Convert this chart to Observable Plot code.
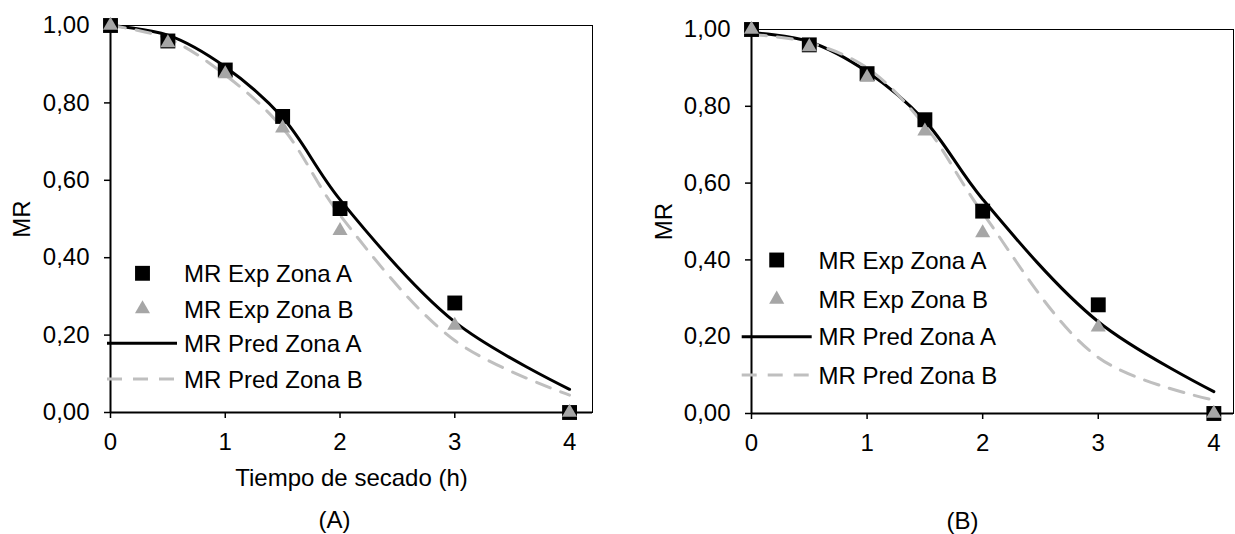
<!DOCTYPE html>
<html>
<head>
<meta charset="utf-8">
<script src="https://cdn.jsdelivr.net/npm/d3@7"></script>
<script src="https://cdn.jsdelivr.net/npm/@observablehq/plot@0.6"></script>
<style>
  html, body { margin: 0; padding: 0; background: #fff; }
  #wrap { position: relative; width: 1235px; height: 534px; overflow: hidden; background: #fff; }
  #wrap svg { position: absolute; top: 0; }
</style>
</head>
<body>
<div id="wrap"></div>
<script>
// ---- data ----
const tiempo = [0, 0.5, 1, 1.5, 2, 3, 4];
const expZonaA = [1.00, 0.96, 0.885, 0.765, 0.527, 0.283, 0.00];
const expZonaB = [1.00, 0.955, 0.875, 0.735, 0.47, 0.225, 0.00];
// panel (A) predictions
const predA_zonaA = [1.00, 0.975, 0.893, 0.762, 0.55, 0.234, 0.06];
const predA_zonaB = [1.00, 0.966, 0.872, 0.735, 0.51, 0.186, 0.045];
// panel (B) predictions
const predB_zonaA = [0.992, 0.968, 0.89, 0.762, 0.558, 0.239, 0.057];
const predB_zonaB = [0.987, 0.966, 0.90, 0.75, 0.522, 0.146, 0.035];

const xTicks = [0, 1, 2, 3, 4];
const yTicks = [0, 0.2, 0.4, 0.6, 0.8, 1.0];
const legendLabels = ["MR Exp Zona A", "MR Exp Zona B", "MR Pred Zona A", "MR Pred Zona B"];
const xLabel = "Tiempo de secado (h)";
const yLabel = "MR";

const FONT = "'Liberation Sans', Arial, Helvetica, sans-serif";
const FS = 24;
const GRAY_M = "#a6a6a6";
const GRAY_L = "#bfbfbf";
const fmt = d => d3.format(".2f")(d).replace(".", ",");

function rows(ys) { return tiempo.map((t, i) => ({t, v: ys[i]})); }

function panel(cfg) {
  const svg = Plot.plot({
    width: cfg.width,
    height: 534,
    marginLeft: cfg.ml,
    marginRight: cfg.mr,
    marginTop: cfg.mt,
    marginBottom: 534 - cfg.y0,
    style: {fontFamily: FONT, fontSize: FS + "px", color: "black", background: "white", overflow: "visible"},
    x: {domain: [0, cfg.xmax], axis: null},
    y: {domain: [0, 1], axis: null},
    marks: [
      Plot.frame({stroke: "black", strokeWidth: 1}),
      Plot.ruleX([0], {stroke: "black", strokeWidth: 2}),
      Plot.ruleY([0], {stroke: "black", strokeWidth: 2}),
      Plot.axisX({ticks: xTicks, tickSize: 6, tickPadding: 14, tickFormat: d => String(d), fontSize: FS, label: null, strokeWidth: 1.5}),
      Plot.axisY({ticks: yTicks, tickSize: 6, tickPadding: 15, tickFormat: fmt, fontSize: FS, label: null, strokeWidth: 1.5}),
      Plot.line(rows(cfg.predA), {x: "t", y: "v", stroke: "black", strokeWidth: 3, curve: "catmull-rom"}),
      Plot.line(rows(cfg.predB), {x: "t", y: "v", stroke: GRAY_L, strokeWidth: 3, strokeDasharray: "15,11", curve: "catmull-rom"}),
      Plot.dot(rows(expZonaA), {x: "t", y: "v", symbol: "square", r: 8.4, fill: "black", stroke: "none"}),
      Plot.dot(rows(expZonaB), {x: "t", y: "v", symbol: "triangle", r: 5.6, fill: GRAY_M, stroke: "none"}),
      Plot.text([yLabel], {frameAnchor: "left", dx: cfg.yLabDx, rotate: -90, fontSize: FS, fill: "black", lineAnchor: "middle", textAnchor: "middle"}),
      cfg.showXLabel ? Plot.text([xLabel], {frameAnchor: "bottom", dy: 66, fontSize: FS, fill: "black", lineAnchor: "middle"}) : null,
      Plot.text([cfg.caption], {frameAnchor: "bottom", dx: cfg.capDx, dy: 108, fontSize: FS, fill: "black", lineAnchor: "middle"})
    ]
  });
  svg.style.left = cfg.left + "px";
  // legend drawn inside the frame
  const g = d3.select(svg).append("g")
    .attr("font-family", FONT).attr("font-size", FS).attr("text-anchor", "start");
  const L = cfg.legend;
  const sq = d3.symbol(d3.symbolSquare, 8.4 * 8.4 * Math.PI)();
  const tr = d3.symbol(d3.symbolTriangle, 5.6 * 5.6 * Math.PI)();
  g.append("path").attr("d", sq).attr("transform", `translate(${L.mx},${L.rows[0]})`).attr("fill", "black");
  g.append("path").attr("d", tr).attr("transform", `translate(${L.mx},${L.rows[1]})`).attr("fill", GRAY_M);
  g.append("line").attr("x1", L.l1).attr("x2", L.l2).attr("y1", L.rows[2]).attr("y2", L.rows[2])
    .attr("stroke", "black").attr("stroke-width", 3);
  g.append("line").attr("x1", L.l1).attr("x2", L.l2).attr("y1", L.rows[3]).attr("y2", L.rows[3])
    .attr("stroke", GRAY_L).attr("stroke-width", 3).attr("stroke-dasharray", "15,11");
  legendLabels.forEach((s, i) => {
    g.append("text").attr("x", L.tx).attr("y", L.rows[i] + 8.6)
      .attr("fill", "black").attr("text-anchor", "start").text(s);
  });
  return svg;
}

const wrap = document.getElementById("wrap");
wrap.appendChild(panel({
  left: 0, width: 600, ml: 110, mr: 8, mt: 25, y0: 412, xmax: 4.2,
  predA: predA_zonaA, predB: predA_zonaB,
  yLabDx: -88, showXLabel: true, caption: "(A)", capDx: -17,
  legend: {mx: 142.5, tx: 184, l1: 107, l2: 177, rows: [273.3, 309, 343.3, 379]}
}));
wrap.appendChild(panel({
  left: 620, width: 615, ml: 131, mr: 2, mt: 29, y0: 413, xmax: 4.17,
  predA: predB_zonaA, predB: predB_zonaB,
  yLabDx: -87, showXLabel: false, caption: "(B)", capDx: -30,
  legend: {mx: 156.7, tx: 198.5, l1: 121.7, l2: 191.7, rows: [260, 299.3, 336.7, 375]}
}));
</script>
</body>
</html>
